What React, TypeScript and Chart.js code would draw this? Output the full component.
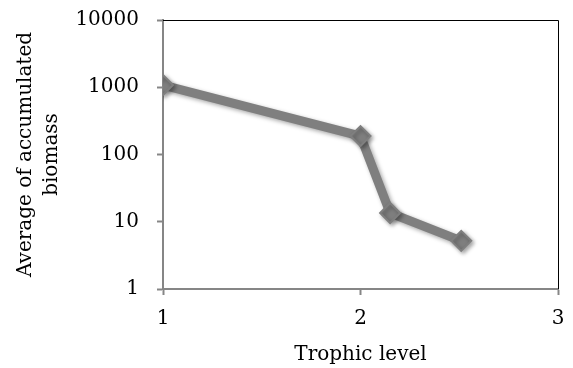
import React, { useEffect, useRef } from "react";
import { Chart, registerables } from "chart.js";

Chart.register(...registerables);

const trophicLevels = [1, 2, 2.15, 2.51];
const biomass = [1080, 188, 13.5, 5.2];
const yTicks = [1, 10, 100, 1000, 10000];
const xTicks = [1, 2, 3];
const xTitle = "Trophic level";
const yTitle = ["Average of accumulated", "biomass"];

const FONT = "'DejaVu Serif', serif";

const framePlugin = {
  id: "frame",
  beforeDatasetsDraw(chart: any) {
    const { ctx, chartArea } = chart;
    ctx.save();
    ctx.strokeStyle = "#000";
    ctx.lineWidth = 1;
    ctx.beginPath();
    ctx.moveTo(chartArea.left, chartArea.top + 0.5);
    ctx.lineTo(chartArea.right + 0.5, chartArea.top + 0.5);
    ctx.lineTo(chartArea.right + 0.5, chartArea.bottom);
    ctx.stroke();
    ctx.restore();
    ctx.save();
    ctx.shadowColor = "rgba(0,0,0,0.35)";
    ctx.shadowBlur = 4;
    ctx.shadowOffsetX = 2;
    ctx.shadowOffsetY = 2;
  },
  afterDatasetsDraw(chart: any) {
    chart.ctx.restore();
  },
};

export default function App() {
  const ref = useRef<HTMLCanvasElement>(null);
  useEffect(() => {
    const chart = new Chart(ref.current!, {
      type: "line",
      data: {
        datasets: [
          {
            data: trophicLevels.map((x, i) => ({ x, y: biomass[i] })),
            borderColor: "#7f7f7f",
            backgroundColor: "#7f7f7f",
            borderWidth: 9,
            pointStyle: "rectRot",
            pointRadius: 10,
            pointBorderWidth: 2,
            pointBorderColor: "#7f7f7f",
            pointBackgroundColor: "#7f7f7f",
            tension: 0,
          },
        ],
      },
      options: {
        animation: false,
        responsive: true,
        maintainAspectRatio: false,
        layout: { padding: { top: 20, right: 15, left: 0, bottom: 0 } },
        plugins: { legend: { display: false }, tooltip: { enabled: false } },
        scales: {
          x: {
            type: "linear",
            min: 1,
            max: 3,
            afterBuildTicks: (s: any) => {
              s.ticks = xTicks.map((v) => ({ value: v }));
            },
            afterFit: (s: any) => {
              s.height = 79;
              s.paddingLeft = 0;
              s.paddingRight = 0;
            },
            ticks: {
              color: "#000",
              font: { family: FONT, size: 20 },
              padding: 12,
              maxRotation: 0,
            },
            grid: {
              drawOnChartArea: false,
              drawTicks: true,
              tickLength: 6,
              tickColor: "#868686",
              tickWidth: 2,
            },
            border: { color: "#868686", width: 2 },
            title: {
              display: true,
              text: xTitle,
              color: "#000",
              font: { family: FONT, size: 20, lineHeight: 1.2 },
              padding: { top: 0, bottom: 1 },
            },
          },
          y: {
            type: "logarithmic",
            min: 1,
            max: 10000,
            afterBuildTicks: (s: any) => {
              s.ticks = yTicks.map((v) => ({ value: v }));
            },
            afterFit: (s: any) => {
              s.width = 163;
              s.paddingTop = 0;
              s.paddingBottom = 0;
            },
            ticks: {
              color: "#000",
              font: { family: FONT, size: 20 },
              padding: 18,
              callback: (v: any) => String(v),
            },
            grid: {
              drawOnChartArea: false,
              drawTicks: true,
              tickLength: 6,
              tickColor: "#868686",
              tickWidth: 2,
            },
            border: { color: "#868686", width: 2 },
            title: {
              display: true,
              text: yTitle,
              color: "#000",
              font: { family: FONT, size: 20, lineHeight: 1.3 },
              padding: { top: 13, bottom: 0 },
            },
          },
        },
      },
      plugins: [framePlugin],
    } as any);
    return () => chart.destroy();
  }, []);
  return (
    <div style={{ position: "fixed", left: 0, top: 0, width: 573, height: 368 }}>
      <canvas ref={ref} />
    </div>
  );
}
